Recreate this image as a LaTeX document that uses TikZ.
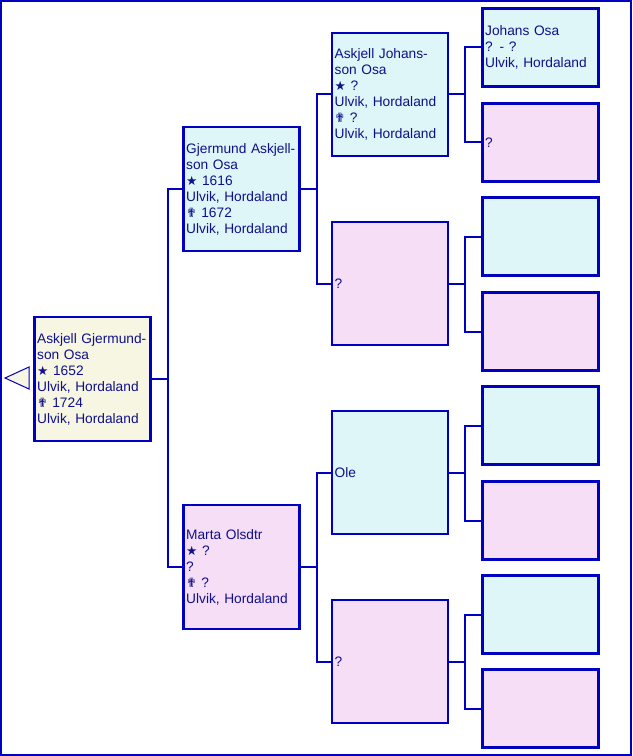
\documentclass[tikz,border=0pt]{standalone}
\usepackage{fontspec}
\setmainfont{Liberation Sans}
\newfontfamily\symfont{DejaVu Sans}
\definecolor{lineblue}{RGB}{0,0,192}
\definecolor{textblue}{RGB}{16,16,140}
\definecolor{cyanfill}{RGB}{222,246,248}
\definecolor{pinkfill}{RGB}{246,222,246}
\definecolor{beigefill}{RGB}{246,246,226}
\newcommand{\born}{{\symfont\fontsize{9.5}{12}\selectfont ★}}
\newcommand{\died}{{\symfont\fontsize{9.5}{12}\selectfont ✟}}
\begin{document}
\begin{tikzpicture}[x=0.75pt,y=-0.75pt,
		person/.style={draw=lineblue, line width=1.6pt, text=textblue, align=left,
			minimum width=87pt, minimum height=92.5pt, text width=83pt, inner xsep=2pt,
			font=\fontsize{10.3}{12}\selectfont},
		small/.style={person, minimum height=58.5pt},
		male/.style={fill=cyanfill},
		female/.style={fill=pinkfill},
		link/.style={draw=lineblue, line width=1.5pt}]
	\useasboundingbox (0,0) rectangle (632,756);
	\draw[lineblue, line width=1.5pt] (1,1) rectangle (631,755);

	\node[person, fill=beigefill] (root) at (92.5,379) {Askjell Gjermund-\\son Osa\\\born{} 1652\\Ulvik, Hordaland\\\died{} 1724\\Ulvik, Hordaland};
	\draw[lineblue, fill=beigefill, line width=0.75pt] (5,378) -- (29,367) -- (29,389) -- cycle;

	\node[person, male] (fa) at (241.5,189) {Gjermund Askjell-\\son Osa\\\born{} 1616\\Ulvik, Hordaland\\\died{} 1672\\Ulvik, Hordaland};
	\node[person, female] (mo) at (241.5,567) {Marta Olsdtr\\\born{} ?\\?\\\died{} ?\\Ulvik, Hordaland};

	\node[person, male] (ff) at (390,94.5) {Askjell Johans-\\son Osa\\\born{} ?\\Ulvik, Hordaland\\\died{} ?\\Ulvik, Hordaland};
	\node[person, female] (fm) at (390,283.5) {?};
	\node[person, male] (mf) at (390,472.5) {Ole};
	\node[person, female] (mm) at (390,661.5) {?};

	\node[small, male] (fff) at (540.5,47.5) {Johans Osa\\? - ?\\Ulvik, Hordaland};
	\node[small, female] (ffm) at (540.5,142.5) {?};
	\node[small, male] (fmf) at (540.5,236.5) {};
	\node[small, female] (fmm) at (540.5,331.5) {};
	\node[small, male] (mff) at (540.5,425.5) {};
	\node[small, female] (mfm) at (540.5,520.5) {};
	\node[small, male] (mmf) at (540.5,614.5) {};
	\node[small, female] (mmm) at (540.5,708.5) {};

	\draw[link] (root.east) -- +(16,0) |- (fa.west);
	\draw[link] (root.east) -- +(16,0) |- (mo.west);
	\foreach \c/\a/\b in {fa/ff/fm, mo/mf/mm, ff/fff/ffm, fm/fmf/fmm, mf/mff/mfm, mm/mmf/mmm} {
		\draw[link] (\c.east) -- +(16,0) |- (\a.west);
		\draw[link] (\c.east) -- +(16,0) |- (\b.west);
	}
\end{tikzpicture}
\end{document}
